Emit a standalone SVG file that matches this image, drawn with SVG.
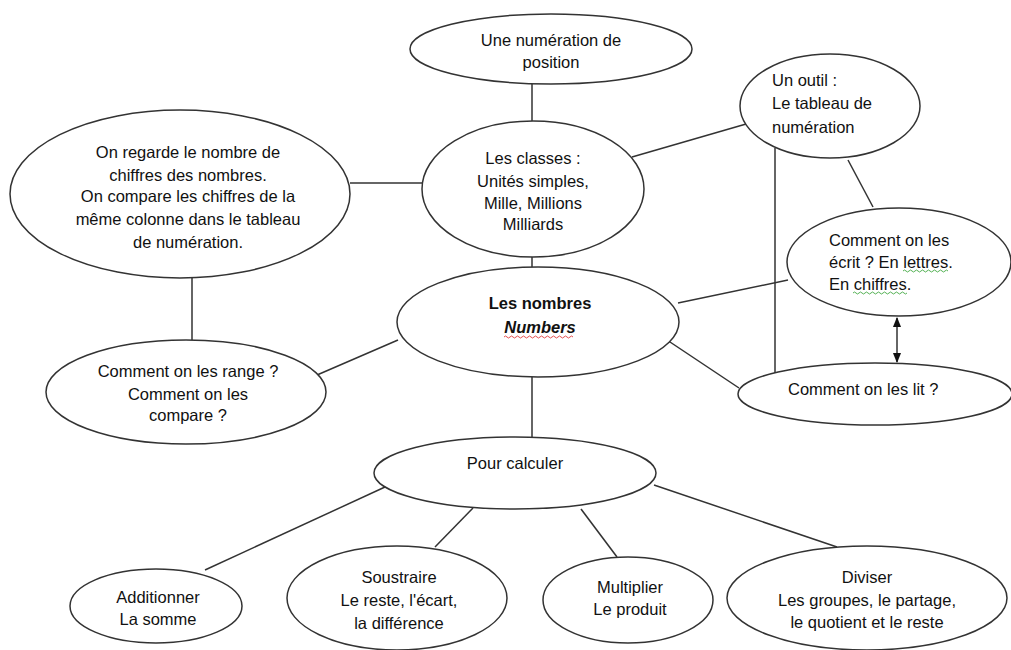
<svg xmlns="http://www.w3.org/2000/svg" width="1011" height="650" viewBox="0 0 1011 650">
<defs>
<style>
.n ellipse{fill:#fff;stroke:#333;stroke-width:1.5}
text{font-family:"Liberation Sans",Arial,sans-serif;font-size:16.5px;fill:#111}
.c{text-anchor:middle}
.b{font-weight:bold}
.i{font-style:italic}
#connectors line{stroke:#333;stroke-width:1.5}
.sq{fill:none;stroke-width:0.8}
</style>
<marker id="ah" viewBox="0 0 10 10" refX="9" refY="5" markerWidth="7" markerHeight="7" orient="auto-start-reverse">
<path d="M0,1 L10,5 L0,9 z" fill="#111"/>
</marker>
</defs>
<rect width="1011" height="650" fill="#fff"/>
<g id="connectors">
<line x1="532" y1="84" x2="532" y2="121"/>
<line x1="350" y1="183" x2="424" y2="183"/>
<line x1="632" y1="157" x2="753" y2="122"/>
<line x1="775" y1="148" x2="775" y2="377"/>
<line x1="848" y1="160" x2="873" y2="207"/>
<line x1="532" y1="257" x2="532" y2="268"/>
<line x1="678" y1="303" x2="788" y2="280"/>
<line x1="667" y1="340" x2="739" y2="388"/>
<line x1="897" y1="318" x2="897" y2="362" marker-start="url(#ah)" marker-end="url(#ah)"/>
<line x1="192" y1="278" x2="192" y2="340"/>
<line x1="398" y1="340" x2="317" y2="375"/>
<line x1="532" y1="377" x2="532" y2="437"/>
<line x1="385" y1="487" x2="205" y2="570"/>
<line x1="473" y1="508" x2="435" y2="547"/>
<line x1="581" y1="509" x2="617" y2="557"/>
<line x1="654" y1="485" x2="837" y2="547"/>
</g>
<g id="n-position" class="n">
<ellipse cx="551" cy="49" rx="141" ry="35"/>
<text class="c" x="551" y="46">Une numération de</text>
<text class="c" x="551" y="68">position</text>
</g>
<g id="n-classes" class="n">
<ellipse cx="533" cy="189" rx="111" ry="68"/>
<text class="c" x="533" y="164">Les classes :</text>
<text class="c" x="533" y="187">Unités simples,</text>
<text class="c" x="533" y="209">Mille, Millions</text>
<text class="c" x="533" y="230">Milliards</text>
</g>
<g id="n-regarde" class="n">
<ellipse cx="180" cy="194" rx="170" ry="84"/>
<text class="c" x="188" y="158">On regarde le nombre de</text>
<text class="c" x="188" y="181">chiffres des nombres.</text>
<text class="c" x="188" y="202">On compare les chiffres de la</text>
<text class="c" x="188" y="225">même colonne dans le tableau</text>
<text class="c" x="188" y="248">de numération.</text>
</g>
<g id="n-outil" class="n">
<ellipse cx="830" cy="106" rx="90" ry="52"/>
<text x="772" y="86">Un outil :</text>
<text x="772" y="109">Le tableau de</text>
<text x="772" y="133">numération</text>
</g>
<g id="n-ecrit" class="n">
<ellipse cx="899" cy="262" rx="112" ry="54"/>
<text x="829" y="246">Comment on les</text>
<text x="829" y="268">écrit ? En lettres.</text>
<text x="829" y="290">En chiffres.</text>
<path class="sq" stroke="#2a9d2a" d="M903,271 q1.5,-2 3,0 t3,0 t3,0 t3,0 t3,0 t3,0 t3,0 t3,0 t3,0 t3,0 t3,0 t3,0 t3,0 t3,0 t3,0"/>
<path class="sq" stroke="#2a9d2a" d="M853,293 q1.5,-2 3,0 t3,0 t3,0 t3,0 t3,0 t3,0 t3,0 t3,0 t3,0 t3,0 t3,0 t3,0 t3,0 t3,0 t3,0 t3,0 t3,0 t3,0"/>
</g>
<g id="n-nombres" class="n">
<ellipse cx="538" cy="322" rx="141" ry="55"/>
<text class="c b" x="540" y="309">Les nombres</text>
<text class="c b i" x="540" y="333">Numbers</text>
<path class="sq" stroke="#d22" d="M504,337 q1.5,-2 3,0 t3,0 t3,0 t3,0 t3,0 t3,0 t3,0 t3,0 t3,0 t3,0 t3,0 t3,0 t3,0 t3,0 t3,0 t3,0 t3,0 t3,0 t3,0 t3,0 t3,0 t3,0 t3,0"/>
</g>
<g id="n-range" class="n">
<ellipse cx="186" cy="392" rx="140" ry="52"/>
<text class="c" x="188" y="377">Comment on les range ?</text>
<text class="c" x="188" y="400">Comment on les</text>
<text class="c" x="188" y="421">compare ?</text>
</g>
<g id="n-lit" class="n">
<ellipse cx="875" cy="394" rx="137" ry="31"/>
<text x="788" y="395">Comment on les lit ?</text>
</g>
<g id="n-calculer" class="n">
<ellipse cx="515" cy="473" rx="141" ry="36"/>
<text class="c" x="515" y="469">Pour calculer</text>
</g>
<g id="n-additionner" class="n">
<ellipse cx="156" cy="606" rx="86" ry="37"/>
<text class="c" x="158" y="603">Additionner</text>
<text class="c" x="158" y="625">La somme</text>
</g>
<g id="n-soustraire" class="n">
<ellipse cx="397" cy="598" rx="110" ry="52"/>
<text class="c" x="399" y="583">Soustraire</text>
<text class="c" x="399" y="606">Le reste, l'écart,</text>
<text class="c" x="399" y="629">la différence</text>
</g>
<g id="n-multiplier" class="n">
<ellipse cx="628" cy="600" rx="85" ry="43"/>
<text class="c" x="630" y="593">Multiplier</text>
<text class="c" x="630" y="615">Le produit</text>
</g>
<g id="n-diviser" class="n">
<ellipse cx="867" cy="598" rx="140" ry="52"/>
<text class="c" x="867" y="583">Diviser</text>
<text class="c" x="867" y="606">Les groupes, le partage,</text>
<text class="c" x="867" y="628">le quotient et le reste</text>
</g>
</svg>
